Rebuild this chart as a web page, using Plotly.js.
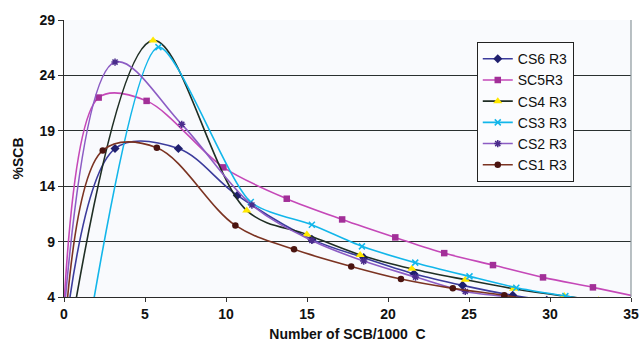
<!DOCTYPE html>
<html>
<head>
<meta charset="utf-8">
<script src="https://cdn.plot.ly/plotly-3.0.1.min.js"></script>
<style>html,body{margin:0;padding:0;background:#fff;}#chart{width:639px;height:347px;}</style>
</head>
<body>
<div id="chart"></div>
<script>
// Series data (x = Number of SCB/1000 C, y = %SCB)
const cs6X = [0.0, 3.15, 7.06, 10.7, 15.3, 18.5, 21.6, 24.6, 27.7, 29.8];
const cs6Y = [0.0, 17.4, 17.4, 13.17, 9.2, 7.55, 6.1, 5.05, 4.15, 3.7];

const sc5X = [-0.12, 2.14, 5.1, 9.84, 13.75, 17.17, 20.45, 23.47, 26.48, 29.57, 32.65, 35.8];
const sc5Y = [0.0, 22.0, 21.7, 15.7, 12.87, 11.0, 9.38, 7.96, 6.88, 5.77, 4.87, 3.9];

const cs4X = [0.3, 5.5, 11.28, 14.99, 18.28, 21.47, 24.77, 27.75, 30.88, 33.0];
const cs4Y = [0.0, 27.16, 11.8, 9.65, 7.8, 6.55, 5.56, 4.75, 4.08, 3.7];

const cs3X = [1.4, 5.83, 11.53, 15.3, 18.39, 21.68, 25.03, 27.92, 30.95, 33.0];
const cs3Y = [0.0, 26.55, 12.57, 10.52, 8.57, 7.1, 5.86, 4.84, 4.08, 3.6];

const cs2X = [-0.2, 3.15, 7.27, 11.6, 15.3, 18.5, 21.7, 24.77, 27.2, 29.5];
const cs2Y = [-1.0, 25.2, 19.58, 12.3, 9.1, 7.24, 5.8, 4.5, 4.05, 3.6];

const cs1X = [0.0, 2.39, 5.73, 10.58, 14.2, 17.73, 20.8, 24.0, 27.18, 29.0];
const cs1Y = [0.0, 17.23, 17.47, 10.46, 8.3, 6.76, 5.62, 4.78, 4.15, 3.7];

const seriesNames = ["CS6 R3", "SC5R3", "CS4 R3", "CS3 R3", "CS2 R3", "CS1 R3"];

function tr(name, x, y, lineColor, markerSymbol, markerColor, markerSize, lw, smooth) {
  return {
    type: 'scatter', mode: 'lines+markers', name: name, x: x, y: y,
    line: {color: lineColor, width: 1.6, shape: 'spline', smoothing: smooth},
    marker: {symbol: markerSymbol, color: markerColor, size: markerSize,
             line: {width: lw, color: markerColor}}
  };
}

const data = [
  tr(seriesNames[0], cs6X, cs6Y, '#3b3b9c', 'diamond', '#1f1f6e', 7, 0, 1.0),
  tr(seriesNames[1], sc5X, sc5Y, '#c548b8', 'square', '#a22f98', 6.5, 0, 0.9),
  tr(seriesNames[2], cs4X, cs4Y, '#1f2e24', 'triangle-up', '#ffe800', 8, 0, 1.0),
  tr(seriesNames[3], cs3X, cs3Y, '#12b6ea', 'x-thin', '#12b6ea', 6, 1.5, 0.7),
  tr(seriesNames[4], cs2X, cs2Y, '#8c5cc4', 'asterisk', '#4b2c8c', 6, 1.5, 1.0),
  tr(seriesNames[5], cs1X, cs1Y, '#7b3322', 'circle', '#4a1410', 6.5, 0, 1.0)
];

const boldFont = {family: 'Arial, "Liberation Sans", sans-serif', size: 14, color: '#111', weight: 700};

const layout = {
  width: 639, height: 347,
  margin: {l: 64, r: 8, t: 20, b: 50},
  paper_bgcolor: '#ffffff',
  plot_bgcolor: '#f9fafd',
  font: {family: 'Arial, "Liberation Sans", sans-serif', color: '#111'},
  showlegend: true,
  legend: {
    x: 0.728, y: 0.92, xanchor: 'left', yanchor: 'top',
    bgcolor: '#fbfcfe', bordercolor: '#222', borderwidth: 1,
    font: {size: 14, color: '#111'},
    tracegroupgap: 0
  },
  xaxis: {
    range: [0, 35], tick0: 0, dtick: 5,
    showgrid: false, zeroline: false,
    showline: true, linecolor: '#2a2a2a', linewidth: 1.2,
    ticks: 'outside', ticklen: 4, tickcolor: '#333',
    tickfont: boldFont,
    title: {text: 'Number of SCB/1000  C', font: boldFont, standoff: 8}
  },
  yaxis: {
    range: [4, 29], tick0: 4, dtick: 5,
    showgrid: true, gridcolor: '#2a3030', gridwidth: 1.3, zeroline: false,
    showline: true, linecolor: '#2a2a2a', linewidth: 1.2,
    ticks: 'outside', ticklen: 5, tickcolor: '#333',
    tickfont: boldFont,
    title: {text: '%SCB', font: boldFont, standoff: 12}
  },
  shapes: [
    {type: 'line', xref: 'paper', yref: 'paper', x0: 1, x1: 1, y0: 0, y1: 1,
     line: {color: '#8a979c', width: 1.2}}
  ]
};

Plotly.newPlot('chart', data, layout, {displayModeBar: false, staticPlot: true});
</script>
</body>
</html>
